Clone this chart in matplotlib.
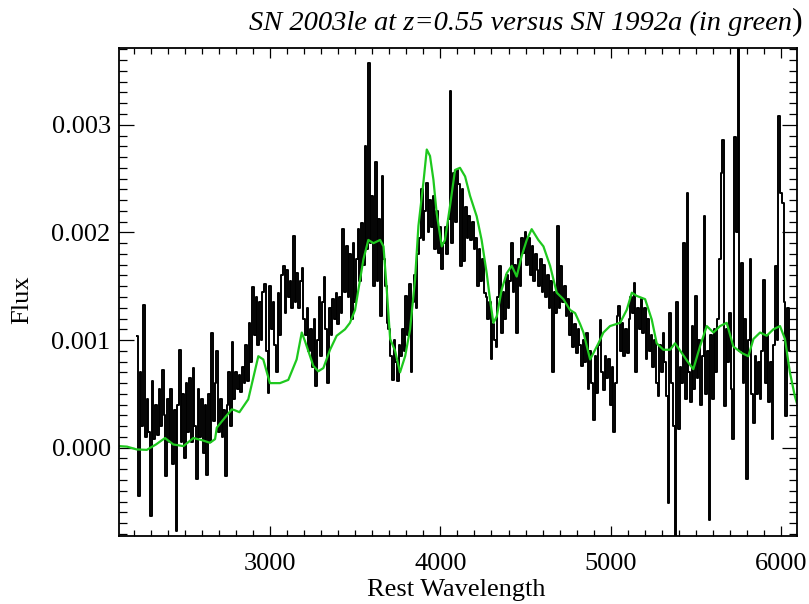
import numpy as np
import matplotlib
matplotlib.use("Agg")
import matplotlib.pyplot as plt
from matplotlib.ticker import MultipleLocator, FormatStrFormatter

plt.rcParams['font.family'] = ['Liberation Serif', 'DejaVu Serif']

# SN 2003le, rest-frame wavelength grid (Angstrom) and binned flux (units of 1e-3)
wave_start, wave_stop, wave_bin = 2220, 6060, 10
flux_2220 = [1.04, -0.45, 0.70, 0.20, 1.33, 0.10, 0.45, 0.15, -0.63, 0.62,
             0.08, 0.40, 0.12, 0.55, 0.20, 0.72, 0.30, -0.26, 0.45, 0.05,
             0.55, -0.15, 0.35, -0.77, 0.40, 0.91, 0.05, 0.50, -0.10, 0.60,
             0.15, 0.65, 0.05, 0.74, 0.20, -0.29, 0.55, 0.10, 0.45, -0.05,
             0.40, -0.25, 0.50, 0.05, 1.07, 0.25, 0.60, 0.90, 0.15, 0.45,
             0.10, 0.35, -0.26, 0.40, 0.70, 0.20, 0.98, 0.45, 0.70, 0.55,
             0.68, 0.52, 0.75, 0.60, 0.95, 0.62, 1.16, 0.80, 1.49, 1.05]
flux_2920 = [1.40, 0.95, 1.35, 1.00, 1.45, 1.52, 0.90, 0.51, 1.50, 1.10,
             1.35, 0.95, 0.70, 1.44, 1.05, 1.60, 1.69, 1.25, 1.65, 1.40,
             1.55, 1.30, 1.97, 1.35, 1.62, 1.30, 1.55, 1.67, 1.20, 1.05,
             1.30, 0.90, 1.10, 0.75, 1.20, 0.57, 1.00, 1.40, 0.85, 1.35,
             1.59, 1.10, 0.60, 1.30, 1.05, 1.38, 1.20, 1.44, 1.15, 1.40,
             1.25, 2.03, 1.45, 1.87, 1.40, 1.80, 1.20, 1.90, 1.35, 1.75]
flux_3520 = [2.03, 1.55, 2.09, 1.70, 2.80, 1.85, 3.57, 1.90, 2.34, 1.50,
             2.65, 1.55, 2.12, 1.22, 2.52, 1.75, 1.50, 1.16, 1.10, 0.85,
             0.63, 1.00, 0.80, 0.62, 0.95, 0.85, 1.10, 0.90, 1.41, 1.05,
             1.52, 0.70, 1.35, 1.60, 1.30, 1.80, 1.95, 2.40, 1.93, 2.20,
             2.46, 2.00, 2.30, 2.05, 2.34, 1.85, 2.20, 1.81, 2.05, 1.66,
             1.90, 2.05, 1.80, 2.12, 3.31, 1.90, 2.55, 2.10, 2.58, 2.45,
             1.69, 2.40, 1.73, 2.24, 1.95, 2.15, 1.93, 2.10, 1.85, 1.95]
flux_4220 = [1.50, 1.85, 1.55, 1.75, 1.44, 1.40, 1.20, 1.35, 0.82, 1.15,
             1.00, 0.94, 1.40, 1.69, 1.07, 1.45, 1.20, 1.60, 1.30, 1.55,
             1.90, 1.45, 1.70, 1.07, 1.75, 1.50, 1.95, 1.81, 2.00, 1.70,
             1.95, 1.60, 1.87, 1.55, 1.80, 1.65, 1.50, 1.75, 1.45, 1.70,
             1.40, 1.60, 1.30, 1.55, 0.70, 1.45, 1.25, 2.06, 1.30, 1.69,
             1.35, 1.50, 1.22, 1.38, 1.05, 1.25, 0.94, 1.15, 0.88, 1.10,
             0.95, 0.76, 1.00, 0.80, 1.07, 0.55, 0.90, 0.60, 0.26, 0.85]
flux_4920 = [0.51, 0.95, 1.19, 0.70, 0.54, 0.85, 0.65, 0.82, 0.40, 0.75,
             0.15, 0.60, 1.22, 1.32, 0.90, 1.16, 0.85, 1.10, 0.88, 1.20,
             1.40, 1.25, 1.53, 0.70, 1.30, 1.10, 1.38, 1.07, 1.30, 0.82,
             1.20, 0.90, 1.05, 0.75, 1.00, 0.60, 0.48, 0.95, 0.70, 1.07,
             0.80, 0.48, -0.51, 1.25, 0.60, 0.20, -0.95, 1.35, 0.17, 0.75]
flux_5420 = [0.60, 1.90, 0.45, 2.37, 0.70, 0.42, 1.13, 0.55, 1.41, 0.65,
             1.00, 0.40, 0.85, 2.15, 0.50, 0.90, -0.67, 1.05, 0.45, 1.10,
             0.70, 1.20, 1.75, 2.55, 2.86, 0.39, 1.10, 0.80, 1.25, 0.55,
             0.08, 2.89, 2.00, 4.00, 0.90, 1.72, 0.60, 1.20, -0.29, 1.00,
             1.75, 0.50, 0.23, 0.85, 0.50, 0.80, 0.45, 0.90, 1.56, 0.60,
             1.05, 0.42, 0.80, 0.08, 0.95, 1.69, 1.00, 3.08, 2.37, 2.27,
             1.35, 0.29, 1.30, 0.90]

# SN 1992a template (units of 1e-3)
tmpl_wave = [2113, 2160, 2217, 2276, 2330, 2383, 2432, 2491, 2550, 2600,
             2647, 2677, 2687, 2730, 2775, 2790, 2820, 2872, 2931, 2960,
             2999, 3058, 3107, 3156, 3186, 3205, 3254, 3283, 3313, 3352,
             3391, 3440, 3469, 3499, 3548, 3577, 3607, 3646, 3666, 3685,
             3705, 3734, 3763, 3793, 3822, 3851, 3871, 3900, 3920, 3939,
             3959, 3978, 4008, 4027, 4056, 4086, 4115, 4145, 4174, 4213,
             4242, 4272, 4291, 4311, 4331, 4360, 4389, 4419, 4448, 4477,
             4507, 4536, 4575, 4605, 4644, 4683, 4722, 4761, 4791, 4820,
             4840, 4879, 4928, 4957, 4996, 5055, 5094, 5124, 5153, 5202,
             5241, 5270, 5309, 5348, 5378, 5417, 5456, 5485, 5524, 5564,
             5603, 5642, 5681, 5720, 5769, 5808, 5838, 5877, 5916, 5955,
             5994, 6023, 6052, 6081, 6092]
tmpl_flux = [0.015, 0.01, -0.016, -0.02, 0.03, 0.09, 0.03, 0.015, 0.09, 0.07,
             0.046, 0.08, 0.186, 0.27, 0.356, 0.35, 0.33, 0.45, 0.85, 0.82,
             0.60, 0.60, 0.63, 0.82, 1.07, 0.99, 0.76, 0.71, 0.74, 0.91,
             1.04, 1.10, 1.16, 1.28, 1.75, 1.93, 1.90, 1.93, 1.87, 1.47,
             1.01, 0.90, 0.70, 0.85, 1.10, 1.56, 2.06, 2.46, 2.77, 2.71,
             2.49, 2.18, 1.87, 1.93, 2.24, 2.58, 2.60, 2.52, 2.34, 2.15,
             1.93, 1.62, 1.38, 1.16, 1.22, 1.47, 1.62, 1.69, 1.59, 1.78,
             1.93, 2.03, 1.93, 1.87, 1.69, 1.44, 1.38, 1.28, 1.25, 1.15,
             1.07, 0.82, 0.97, 1.07, 1.13, 1.16, 1.28, 1.44, 1.41, 1.38,
             1.19, 0.97, 0.91, 0.91, 0.97, 0.88, 0.79, 0.73, 0.94, 1.13,
             1.07, 1.13, 1.16, 0.94, 0.88, 0.85, 1.01, 1.07, 1.04, 1.10,
             1.13, 1.01, 0.70, 0.48, 0.42]

scale = 1e-3
wave = np.arange(wave_start, wave_stop, wave_bin)
flux = np.array(flux_2220 + flux_2920 + flux_3520 + flux_4220 + flux_4920 + flux_5420) * scale
assert len(wave) == len(flux)

fig = plt.figure(figsize=(8.09, 6.04), dpi=100)
ax = fig.add_axes([0.1471, 0.1126, 0.8377, 0.8074])

ax.step(wave, flux, where='mid', color='black', lw=1.4)
ax.plot(tmpl_wave, np.array(tmpl_flux) * scale, color='#1ec81e', lw=1.6)

ax.set_xlim(2113, 6092)
ax.set_ylim(-0.00082, 0.00371)

ax.xaxis.set_major_locator(MultipleLocator(1000))
ax.xaxis.set_minor_locator(MultipleLocator(100))
ax.yaxis.set_major_locator(MultipleLocator(0.001))
ax.yaxis.set_minor_locator(MultipleLocator(0.0001))
ax.yaxis.set_major_formatter(FormatStrFormatter('%.3f'))

ax.tick_params(axis='both', which='both', direction='in', top=True, right=True,
               width=0.9, labelsize=19)
ax.tick_params(axis='x', which='major', length=7.2, pad=12)
ax.tick_params(axis='x', which='minor', length=4.0)
ax.tick_params(axis='y', which='major', length=10.8, pad=6)
ax.tick_params(axis='y', which='minor', length=6.0)
for s in ax.spines.values():
    s.set_linewidth(1.3)

fig.text(456 / 809, 1 - 590 / 604, 'Rest Wavelength', ha='center', va='center', fontsize=19)
fig.text(22 / 809, 1 - 300 / 604, 'Flux', ha='center', va='center', rotation=90, fontsize=19)
fig.text(792 / 809, 1 - 23 / 604, 'SN 2003le at z=0.55 versus SN 1992a (in green',
         ha='right', va='center', fontsize=20.5, style='italic')
fig.text(792 / 809, 1 - 22 / 604, ')', ha='left', va='center', fontsize=23)

fig.savefig('out.png', dpi=100)
